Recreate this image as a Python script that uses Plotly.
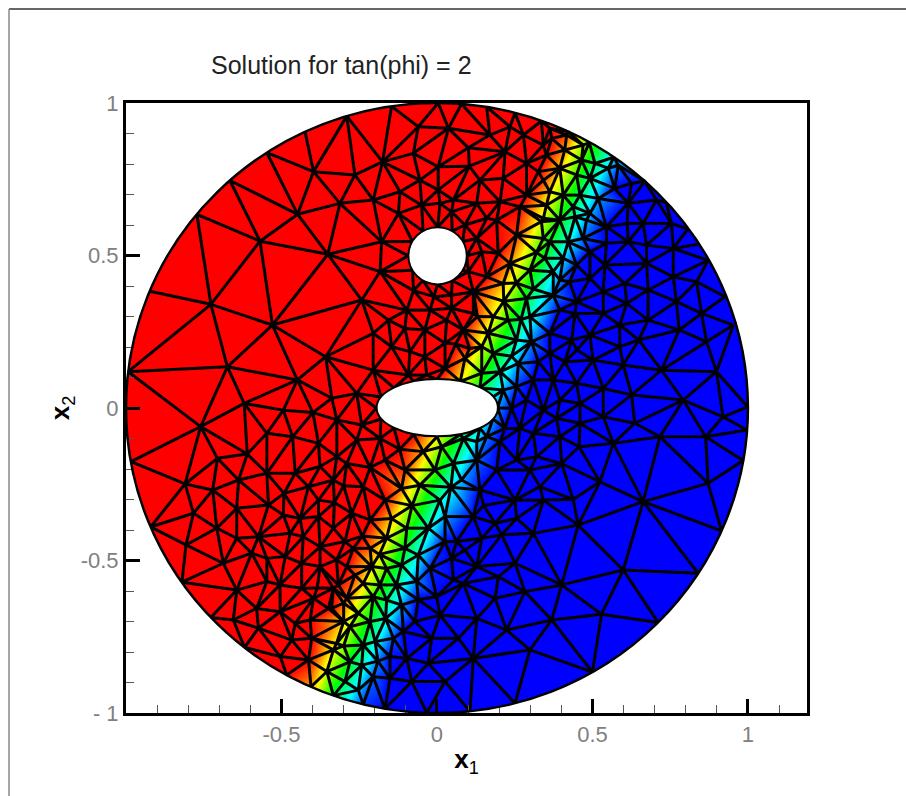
import numpy as np
import plotly.graph_objects as go

# Nodes of the mesh. Red nodes have value 1, blue nodes 0.
outer_nodes = [
    (.999, .004, 0), (.953, .272, 0), (.926, .365, 0), (.872, .484, 0), (.841, .537, 0), (.807, .587, 0),
    (.737, .674, 0), (.668, .744, 0), (.569, .822, .22), (.490, .870, .59), (.422, .906, .92), (.336, .941, 1),
    (.251, .968, 1), (.160, .987, 1), (.079, .997, 1), (.004, 1.0, 1), (-.146, .989, 1), (-.290, .957, 1),
    (-.424, .905, 1), (-.547, .837, 1), (-.666, .746, 1), (-.772, .635, 1), (-.923, .383, 1), (-.993, .119, 1),
    (-.984, -.176, 1), (-.921, -.390, 1), (-.820, -.571, 1), (-.727, -.687, 1), (-.619, -.785, 1),
    (-.483, -.875, 1), (-.405, -.914, .85), (-.333, -.943, .45), (-.237, -.971, .06), (-.167, -.986, 0),
    (-.033, -.999, 0), (.106, -.994, 0), (.251, -.968, 0), (.500, -.866, 0), (.711, -.703, 0), (.840, -.542, 0),
    (.915, -.403, 0), (.985, -.172, 0), (.997, -.072, 0),
]
circle_hole_nodes = [
    (.096, .499, 1), (.083, .546, 1), (.049, .580, 1), (.002, .593, 1), (-.045, .580, 1), (-.079, .546, 1),
    (-.092, .499, 1), (-.079, .452, 1), (-.045, .418, 1), (.002, .405, 1), (.049, .418, 1), (.083, .452, 1),
]
ellipse_hole_nodes = [
    (.195, 0, .15), (.180, .036, .28), (.138, .066, .49), (.075, .087, .77), (0, .094, 1), (-.075, .087, 1),
    (-.138, .066, 1), (-.180, .036, 1), (-.195, 0, 1), (-.180, -.036, 1), (-.138, -.066, 1), (-.075, -.087, 1),
    (0, -.094, .73), (.075, -.087, .46), (.138, -.066, .25), (.180, -.036, .15),
]
red_nodes = [
    (-.397, .775), (-.448, .635), (-.569, .547), (-.351, .504), (-.727, .340), (-.175, .807), (-.264, .764),
    (-.076, .835), (-.060, .922), (.037, .917), (.101, .853), (.004, .791), (-.055, .747), (-.205, .682),
    (-.312, .671), (-.119, .709), (.138, .747), (.104, .793), (.170, .895), (.219, .840), (.235, .922),
    (.213, .753), (.288, .802), (.326, .775), (.342, .862), (.278, .895), (.053, .682), (.004, .715),
    (.010, .671), (-.049, .665), (-.124, .638), (.128, .671), (.047, .643), (.203, .676), (.267, .660),
    (.160, .622), (.090, .600), (.128, .556), (-.178, .545), (-.183, .447), (-.242, .354), (.192, .616),
    (.144, .512), (.197, .507), (.160, .430), (.101, .447), (.117, .381), (.047, .370), (.288, .698),
    (-.075, .385), (-.010, .365), (.369, .884), (.363, .917), (.352, .829),
    (-.529, .272), (-.674, .135), (-.449, .092), (-.358, .168), (-.620, .015), (-.760, -.061), (-.547, -.083),
    (-.494, -.007), (-.399, -.015), (-.464, -.094), (-.338, .032), (-.322, -.039), (-.610, -.151), (-.706, -.165),
    (-.810, -.249), (-.721, -.269), (-.638, -.236), (-.547, -.214), (-.492, -.280), (-.456, -.214), (-.381, -.116),
    (-.376, -.192), (-.413, -.258), (-.322, -.160), (-.542, -.318), (-.644, -.329), (-.381, -.302), (-.333, -.236),
    (-.205, .245), (-.258, .048), (-.156, .288), (-.097, .321), (-.103, .261), (-.039, .168), (-.205, .124),
    (-.146, .201), (-.087, .185), (-.092, .108), (-.033, .108), (.026, .130), (-.039, .256), (.031, .288),
    (.047, .327), (-.022, .321), (.026, .212), (.085, .256), (.117, .310),
    (-.183, -.100), (-.242, -.056), (-.258, -.105), (-.167, -.171), (-.237, -.258), (-.290, -.182), (-.167, -.302),
    (-.215, -.367), (-.274, -.345), (-.269, -.460), (-.323, -.498), (-.296, -.438), (-.339, -.657), (-.333, -.591),
    (-.783, -.345), (-.708, -.394), (-.807, -.449), (-.687, -.509), (-.644, -.427), (-.574, -.422), (-.547, -.493),
    (-.596, -.476), (-.547, -.569), (-.644, -.597), (-.655, -.695), (-.574, -.722), (-.580, -.657), (-.494, -.351),
    (-.440, -.362), (-.381, -.356), (-.333, -.394), (-.472, -.411), (-.430, -.422), (-.488, -.487), (-.376, -.455),
    (-.435, -.509), (-.376, -.520), (-.505, -.580), (-.435, -.591), (-.349, -.657), (-.456, -.706), (-.504, -.668),
    (-.397, -.624), (-.408, -.695), (-.413, -.826), (-.467, -.761), (-.504, -.815), (-.403, -.755), (-.317, -.580),
    (-.120, -.135), (-.215, -.195), (-.300, -.255), (-.330, -.310), (-.240, -.420), (-.290, -.520), (-.385, -.590),
    (.060, .210), (.105, .195),
]
blue_nodes = [
    (.572, .720), (.626, .736), (.615, .671), (.706, .682), (.754, .605), (.663, .605), (.612, .605), (.545, .594),
    (.545, .540), (.615, .545), (.674, .534), (.760, .523), (.674, .474), (.760, .430), (.604, .408), (.540, .469),
    (.492, .512), (.492, .425), (.535, .381), (.610, .343), (.679, .387), (.835, .414), (.449, .348),
    (.395, .321), (.363, .245), (.444, .310), (.535, .310), (.679, .288), (.770, .349), (.851, .310), (.779, .256),
    (.649, .223), (.588, .272), (.502, .157), (.492, .239), (.433, .223), (.588, .201), (.722, .124), (.867, .217),
    (.899, .119), (.599, .141), (.411, .152), (.363, .179), (.535, .064), (.449, .081), (.374, .092), (.626, .043),
    (.792, .026), (.920, -.029), (.864, -.094), (.717, -.094), (.636, -.050), (.535, -.029), (.460, .015),
    (.395, .026), (.385, -.034), (.460, -.050), (.395, -.094), (.457, -.127), (.567, -.116), (.401, -.182),
    (.524, -.242), (.872, -.247), (.663, -.307), (.438, -.300), (.331, -.258), (.454, -.384), (.599, -.531),
    (.401, -.580), (.529, -.676), (.369, -.695), (.326, .152), (.310, .092), (.240, -.001), (.288, .026),
    (.342, -.007), (.219, -.067), (.267, -.067), (.310, -.083), (.203, -.110), (.192, -.203), (.299, -.203),
    (.256, -.171), (.320, -.160), (.138, -.269), (.251, -.302), (.342, -.302), (.063, -.438), (.047, -.493),
    (.090, -.466), (.117, -.356), (.310, -.411), (.251, -.509), (.283, -.602), (.224, -.728), (.299, -.793),
    (.117, -.821), (.128, -.690), (.010, -.679), (.085, -.575), (.187, -.624), (.197, -.553), (.026, -.897),
    (-.028, -.837), (.069, -.755), (-.017, -.755), (-.097, -.821), (-.081, -.897), (-.151, -.886), (-.071, -.700),
    (-.001, -.619), (.128, -.520), (.144, -.427), (.208, -.416), (.256, -.362), (.187, -.378), (.053, -.564),
    (-.060, -.629), (-.108, -.733), (.150, -.320), (.450, .190),
]
band_nodes = [
    (.417, .895, .92), (.411, .846, .85), (.470, .862, .65), (.465, .813, .58), (.508, .802, .40), (.395, .786, .80),
    (.342, .747, .94), (.449, .764, .56), (.492, .753, .37), (.551, .786, .20), (.583, .796, .10), (.406, .698, .60),
    (.363, .709, .79), (.519, .687, .15), (.460, .698, .40), (.438, .660, .41), (.492, .638, .17), (.395, .616, .50),
    (.352, .665, .75), (.336, .611, .72), (.444, .627, .33), (.481, .616, .17), (.363, .545, .49), (.422, .545, .27),
    (.470, .556, .10), (.449, .469, .02), (.406, .491, .23), (.347, .491, .46), (.374, .447, .27), (.427, .414, .01),
    (.374, .370, .13), (.342, .622, .71), (.342, .556, .59), (.256, .567, .94), (.235, .474, .86), (.299, .452, .57),
    (.288, .359, .45), (.213, .408, .82), (.181, .299, .75), (.229, .288, .54), (.299, .299, .30), (.165, .245, .71),
    (.256, .223, .32), (.304, .217, .13), (.144, .201, .71), (.181, .179, .53), (.090, .163, .85), (.144, .114, .56),
    (.203, .119, .34), (.262, .146, .16), (.213, .059, .19), (.256, .070, .05), (.160, -.094, .12), (.128, -.110, .21),
    (.085, -.100, .40), (.015, -.127, .62), (-.044, -.143, .82), (-.103, -.203, .94), (.053, -.182, .37),
    (.128, -.171, .10), (.079, -.236, .17), (-.006, -.203, .56), (-.055, -.253, .66), (-.114, -.264, .87),
    (.010, -.302, .32), (.026, -.356, .16), (-.028, -.394, .30), (-.097, -.394, .57), (-.146, -.362, .81),
    (.026, -.438, .01), (-.162, -.427, .75), (-.103, -.460, .47), (-.060, -.482, .26), (-.022, -.526, .04),
    (-.114, -.515, .41), (-.162, -.526, .58), (-.215, -.460, .90), (-.210, -.520, .77), (-.264, -.548, .93),
    (-.130, -.580, .35), (-.183, -.580, .56), (-.237, -.575, .78), (-.065, -.569, .13), (-.290, -.624, .89),
    (-.114, -.646, .17), (-.162, -.630, .39), (-.205, -.619, .57), (-.253, -.673, .66), (-.215, -.700, .47),
    (-.280, -.717, .68), (-.237, -.777, .41), (-.323, -.772, .75), (-.280, -.832, .48), (-.242, -.843, .31),
    (-.199, -.766, .28), (-.140, -.755, .08), (-.151, -.815, .01), (-.205, -.881, .10), (-.253, -.925, .20),
    (-.296, -.897, .42), (-.333, -.793, .75), (-.354, -.864, .70),
    (.215, .350, .71), (.255, .410, .67), (.320, .510, .60), (.395, .420, .14), (.310, .390, .42), (.240, .170, .29),
    (.270, .290, .39), (.130, .300, .94), (.045, -.260, .26), (-.080, -.320, .63), (-.185, -.480, .75),
    (-.300, -.640, .90), (-.165, -.690, .29), (-.300, -.780, .65), (-.190, -.830, .13), (-.300, -.700, .79),
]

x_ticks = [-0.5, 0, 0.5, 1]
x_tick_labels = ["-0.5", "0", "0.5", "1"]
y_ticks = [-1, -0.5, 0, 0.5, 1]
y_tick_labels = ["- 1", "-0.5", "0", "0.5", "1"]
circle_hole = (0.002, 0.499, 0.094)
ellipse_hole = (0.001, 0.001, 0.195, 0.094)

rainbow = [[0, "rgb(0,0,255)"], [0.25, "rgb(0,255,255)"], [0.5, "rgb(0,255,0)"],
           [0.75, "rgb(255,255,0)"], [1, "rgb(255,0,0)"]]


def in_holes(px, py):
    cx, cy, r = circle_hole
    ex, ey, a, b = ellipse_hole
    return (px - cx) ** 2 + (py - cy) ** 2 < r ** 2 or ((px - ex) / a) ** 2 + ((py - ey) / b) ** 2 < 1


def delaunay(pts):
    # plain Bowyer-Watson, there is no scipy here
    n = len(pts)
    pts = pts + [(-10.0, -10.0), (10.0, -10.0), (0.0, 12.0)]
    tris = [(n, n + 1, n + 2)]
    for i in range(n):
        px, py = pts[i]
        bad = []
        for t in tris:
            (ax, ay), (bx, by), (cx, cy) = pts[t[0]], pts[t[1]], pts[t[2]]
            d = 2 * (ax * (by - cy) + bx * (cy - ay) + cx * (ay - by))
            ux = ((ax**2 + ay**2) * (by - cy) + (bx**2 + by**2) * (cy - ay) + (cx**2 + cy**2) * (ay - by)) / d
            uy = ((ax**2 + ay**2) * (cx - bx) + (bx**2 + by**2) * (ax - cx) + (cx**2 + cy**2) * (bx - ax)) / d
            if (px - ux) ** 2 + (py - uy) ** 2 < (ax - ux) ** 2 + (ay - uy) ** 2:
                bad.append(t)
        count = {}
        for t in bad:
            for e in ((t[0], t[1]), (t[1], t[2]), (t[2], t[0])):
                k = tuple(sorted(e))
                count[k] = count.get(k, 0) + 1
        tris = [t for t in tris if t not in bad]
        for (a, b), c in count.items():
            if c == 1:
                tris.append((a, b, i))
    return [t for t in tris if max(t) < n]


nodes = outer_nodes + circle_hole_nodes + ellipse_hole_nodes
nodes = nodes + [(x, y, 1) for x, y in red_nodes] + [(x, y, 0) for x, y in blue_nodes] + band_nodes
node_x = [n[0] for n in nodes]
node_y = [n[1] for n in nodes]
node_v = [n[2] for n in nodes]
n_outer = len(outer_nodes)

all_tris = delaunay(list(zip(node_x, node_y)))
triangles = []
for t in all_tris:
    mx = sum(node_x[i] for i in t) / 3
    my = sum(node_y[i] for i in t) / 3
    if in_holes(mx, my):
        continue
    area = abs((node_x[t[1]] - node_x[t[0]]) * (node_y[t[2]] - node_y[t[0]])
               - (node_x[t[2]] - node_x[t[0]]) * (node_y[t[1]] - node_y[t[0]])) / 2
    if max(t) < n_outer and area < 0.004:  # slivers along the rim
        continue
    triangles.append(t)

# colour field on a one pixel grid, linear inside each element
grid_x = np.linspace(-1, 1, 622)
grid_y = np.linspace(-1, 1, 610)
gx, gy = np.meshgrid(grid_x, grid_y)
field = np.full(gx.shape, np.nan, dtype=np.float32)
for t in triangles:
    ax, ay, bx, by, cx, cy = node_x[t[0]], node_y[t[0]], node_x[t[1]], node_y[t[1]], node_x[t[2]], node_y[t[2]]
    det = (by - cy) * (ax - cx) + (cx - bx) * (ay - cy)
    i0, i1 = np.searchsorted(grid_x, min(ax, bx, cx)) - 1, np.searchsorted(grid_x, max(ax, bx, cx)) + 1
    j0, j1 = np.searchsorted(grid_y, min(ay, by, cy)) - 1, np.searchsorted(grid_y, max(ay, by, cy)) + 1
    i0, j0 = max(i0, 0), max(j0, 0)
    sx, sy = gx[j0:j1, i0:i1], gy[j0:j1, i0:i1]
    l0 = ((by - cy) * (sx - cx) + (cx - bx) * (sy - cy)) / det
    l1 = ((cy - ay) * (sx - cx) + (ax - cx) * (sy - cy)) / det
    l2 = 1 - l0 - l1
    inside = (l0 >= -0.004) & (l1 >= -0.004) & (l2 >= -0.004)
    part = field[j0:j1, i0:i1]
    part[inside] = (l0 * node_v[t[0]] + l1 * node_v[t[1]] + l2 * node_v[t[2]])[inside]

# the rim is a true circle, so fill what lies between it and the straight sides
rim_angle = np.arctan2(node_y[:n_outer], node_x[:n_outer])
order = np.argsort(rim_angle)
angle = np.arctan2(gy, gx)
rim_value = np.interp(angle, rim_angle[order], np.array(node_v[:n_outer])[order], period=2 * np.pi)
gap = np.isnan(field) & (gx ** 2 + gy ** 2 <= 1)
field[gap] = rim_value[gap]
field[gx ** 2 + gy ** 2 > 1] = np.nan

edge_count = {}
for t in triangles:
    for e in ((t[0], t[1]), (t[1], t[2]), (t[2], t[0])):
        k = tuple(sorted(e))
        edge_count[k] = edge_count.get(k, 0) + 1
edge_x, edge_y = [], []
for (a, b), c in edge_count.items():
    if c == 2:
        edge_x += [node_x[a], node_x[b], None]
        edge_y += [node_y[a], node_y[b], None]

fig = go.Figure()
fig.add_trace(go.Heatmap(x=grid_x, y=grid_y, z=field, colorscale=rainbow, zmin=0, zmax=1,
                         showscale=False, hoverinfo="skip"))
fig.add_trace(go.Scatter(x=edge_x, y=edge_y, mode="lines", line=dict(color="black", width=3),
                         hoverinfo="skip", showlegend=False))

cx, cy, r = circle_hole
ex, ey, a, b = ellipse_hole
fig.add_shape(type="circle", x0=-1, x1=1, y0=-1, y1=1, line=dict(color="black", width=2.5))
fig.add_shape(type="circle", x0=cx - r, x1=cx + r, y0=cy - r, y1=cy + r, fillcolor="white",
              line=dict(color="black", width=2))
fig.add_shape(type="circle", x0=ex - a, x1=ex + a, y0=ey - b, y1=ey + b, fillcolor="white",
              line=dict(color="black", width=2))
# page frame
fig.add_shape(type="line", xref="paper", yref="paper", x0=-117 / 681, x1=780 / 681, y0=704 / 610, y1=704 / 610,
              line=dict(color="#333333", width=1.5))
fig.add_shape(type="line", xref="paper", yref="paper", x0=-117 / 681, x1=-117 / 681, y0=704 / 610, y1=-83 / 610,
              line=dict(color="#888888", width=1.5))

tick_font = dict(family="Liberation Sans", size=22, color="#808080")
fig.update_xaxes(range=[-1, 1.19], showgrid=False, zeroline=False, showline=True, mirror=True, linecolor="black",
                 linewidth=3, ticks="inside", ticklen=14, tickwidth=2.5, tickcolor="black",
                 tickvals=x_ticks, ticktext=x_tick_labels, tickfont=tick_font,
                 minor=dict(ticks="inside", dtick=0.1, tick0=0, ticklen=8, tickwidth=1, tickcolor="#555555", showgrid=False),
                 title=dict(text="<b>x</b><sub>1</sub>", font=dict(family="Liberation Sans", size=26, color="black"),
                            standoff=4))
fig.update_yaxes(range=[-1, 1], showgrid=False, zeroline=False, showline=True, mirror=True, linecolor="black",
                 linewidth=3, ticks="inside", ticklen=14, tickwidth=2.5, tickcolor="black",
                 tickvals=y_ticks, ticktext=y_tick_labels, tickfont=tick_font,
                 minor=dict(ticks="inside", dtick=0.1, tick0=0, ticklen=8, tickwidth=1, tickcolor="#555555", showgrid=False),
                 title=dict(text="<b>x</b><sub>2</sub>", font=dict(family="Liberation Sans", size=26, color="black"),
                            standoff=4))
fig.update_layout(width=906, height=796, margin=dict(l=126, r=99, t=103, b=83, autoexpand=False),
                  plot_bgcolor="white", paper_bgcolor="white", showlegend=False)
fig.add_annotation(text="Solution for tan(phi) = 2", xref="paper", yref="paper", x=83 / 681, y=648 / 610,
                   xanchor="left", yanchor="middle", showarrow=False,
                   font=dict(family="Liberation Sans", size=25, color="#222222"))

fig.write_html("out.html", config={"displayModeBar": False}, post_script="document.body.style.margin='0';")
